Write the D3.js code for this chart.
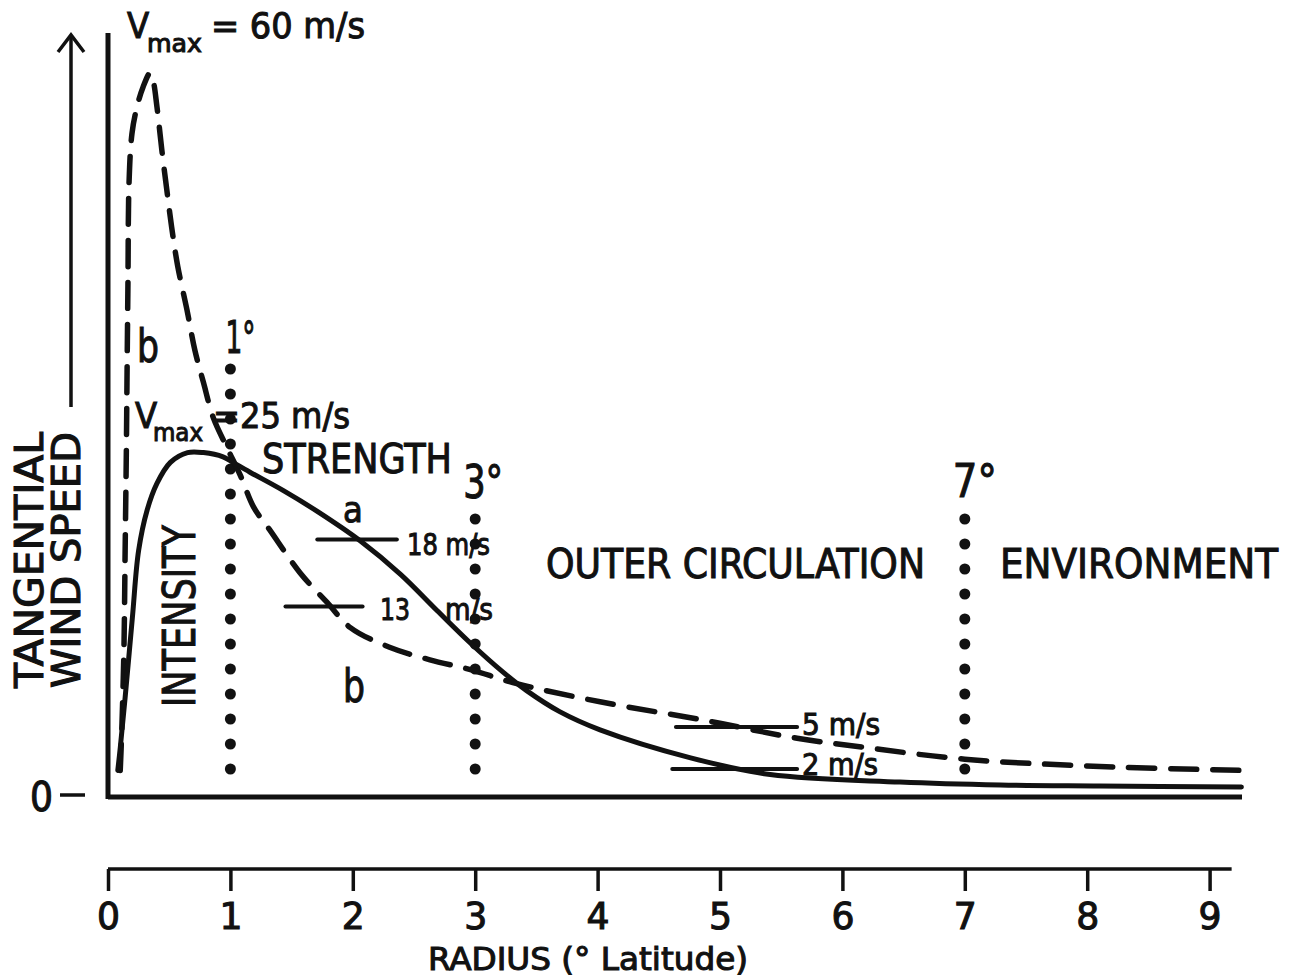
<!DOCTYPE html>
<html>
<head>
<meta charset="utf-8">
<script src="https://cdn.jsdelivr.net/npm/d3@7"></script>
<style>
body { margin: 0; background: #fff; }
text { font-family: "DejaVu Sans Condensed", "Liberation Sans Narrow", "DejaVu Sans", sans-serif; fill: #111; stroke: #111; stroke-width: 1; }
</style>
</head>
<body>
<svg id="chart" width="1299" height="978"></svg>
<script>
// profile a (solid): radius in degrees latitude, tangential speed in m/s as drawn
var radiusA = [0.08, 0.10, 0.14, 0.20, 0.25, 0.32, 0.40, 0.51, 0.65, 0.78, 0.94, 1.02, 1.16, 1.43, 1.71,
    2.06, 2.39, 2.69, 2.96, 3.23, 3.42, 3.69, 4.02, 4.76, 5.41, 6.47, 7.29, 8.10, 9.26];
var speedA = [1.9, 3.5, 7.1, 12.9, 17.6, 20.5, 22.4, 23.9, 24.6, 24.6, 24.3, 23.9, 23.2, 21.9, 20.4,
    18.3, 15.9, 13.3, 11.0, 8.9, 7.6, 6.1, 4.8, 2.8, 1.6, 1.07, 0.86, 0.79, 0.71];

// profile b (dashed)
var radiusB = [0.10, 0.11, 0.13, 0.14, 0.15, 0.155, 0.163, 0.172, 0.196, 0.237, 0.286, 0.343, 0.368, 0.40,
    0.44, 0.48, 0.52, 0.57, 0.645, 0.71, 0.78, 0.86, 0.97, 1.08, 1.19, 1.32, 1.57, 1.79, 1.98,
    2.30, 2.63, 2.96, 3.34, 4.02, 4.86, 5.63, 6.22, 7.00, 8.05, 9.25];
var speedB = [1.9, 4.1, 10.5, 17.6, 24.8, 29.6, 36.7, 43.9, 47.4, 49.3, 50.7, 51.7, 51.2, 49.3,
    46.2, 43.4, 40.7, 37.9, 34.8, 31.9, 29.6, 27.1, 25.0, 23.0, 20.7, 19.1, 16.0, 13.9, 12.1,
    10.7, 9.8, 9.1, 8.1, 6.8, 5.5, 4.2, 3.5, 2.7, 2.2, 1.9];

var xTicks = [0, 1, 2, 3, 4, 5, 6, 7, 8, 9];

// region boundaries (dotted verticals)
var regionRadius = [1, 3, 7];
var regionTop = [30.5, 20.0, 20.0];
var regionLabels = ["1°", "3°", "7°"];

// speed markers
var markerSpeed = [18.4, 13.6, 5.0, 2.0];
var markerFrom = [1.71, 1.45, 4.64, 4.61];
var markerTo = [2.36, 2.08, 5.63, 5.63];

var svg = d3.select("#chart");
svg.append("rect").attr("width", 1299).attr("height", 978).attr("fill", "#fff");

var x = d3.scaleLinear().domain([0, 9]).range([108, 108 + 9 * 122.4]);
var y = d3.scaleLinear().domain([0, 55]).range([797, 27]);

function label(txt, px, py, size, len, rot) {
    var t = svg.append("text")
        .attr("font-size", size)
        .text(txt);
    if (rot) {
        t.attr("transform", "translate(" + px + "," + py + ") rotate(-90)");
    } else {
        t.attr("x", px).attr("y", py);
    }
    if (len) t.attr("textLength", len).attr("lengthAdjust", "spacingAndGlyphs");
    return t;
}

// plot frame: vertical axis and zero line
svg.append("line")
    .attr("x1", x(0)).attr("x2", x(0))
    .attr("y1", 33).attr("y2", y(0) + 2)
    .attr("stroke", "#111").attr("stroke-width", 5);
svg.append("line")
    .attr("x1", x(0)).attr("x2", 1242)
    .attr("y1", y(0)).attr("y2", y(0))
    .attr("stroke", "#111").attr("stroke-width", 5);

// "0 -" tick on the left
label("0", 30, y(0) + 14, 41, 23);
svg.append("line")
    .attr("x1", 60).attr("x2", 85)
    .attr("y1", y(0) - 2).attr("y2", y(0) - 2)
    .attr("stroke", "#111").attr("stroke-width", 3.5);

// axis title with arrow
svg.append("line")
    .attr("x1", 71).attr("x2", 71).attr("y1", 407).attr("y2", 35)
    .attr("stroke", "#111").attr("stroke-width", 3.5);
svg.append("path")
    .attr("d", "M58,52L71,35L84,52")
    .attr("fill", "none").attr("stroke", "#111").attr("stroke-width", 3.5);
label("TANGENTIAL", 43, 688, 39, 256, true);
label("WIND SPEED", 80, 688, 39, 256, true);

// dotted region boundaries
regionRadius.forEach(function (r, i) {
    var top = y(regionTop[i]);
    var dots = d3.range(y(2), top - 5, -25);
    svg.selectAll(null)
        .data(dots)
        .enter()
        .append("circle")
        .attr("cx", x(r))
        .attr("cy", (d) => d)
        .attr("r", 5.5)
        .attr("fill", "#111");
});
label(regionLabels[0], x(1) - 5, 353, 45, 30);
label(regionLabels[1], x(3) - 12, 498, 46, 40);
label(regionLabels[2], x(7) - 12, 497, 46, 44);

// curves
var line = d3.line()
    .x((d) => x(d[0]))
    .y((d) => y(d[1]))
    .curve(d3.curveCatmullRom.alpha(0.5));

svg.append("path")
    .datum(d3.zip(radiusB, speedB))
    .attr("d", line)
    .attr("fill", "none")
    .attr("stroke", "#111")
    .attr("stroke-width", 5.5)
    .attr("stroke-linecap", "round")
    .attr("stroke-dasharray", "26,16");

svg.append("path")
    .datum(d3.zip(radiusA, speedA))
    .attr("d", line)
    .attr("fill", "none")
    .attr("stroke", "#111")
    .attr("stroke-width", 5)
    .attr("stroke-linecap", "round");

// speed markers
markerSpeed.forEach(function (s, i) {
    svg.append("line")
        .attr("x1", x(markerFrom[i])).attr("x2", x(markerTo[i]))
        .attr("y1", y(s)).attr("y2", y(s))
        .attr("stroke", "#111").attr("stroke-width", 4)
        .attr("stroke-linecap", "round");
});
label("18 m/s", 407, 555, 30, 83);
label("13", 380, 620, 31, 30);
label("m/s", 445, 620, 31, 48);
label("5 m/s", 802, 735, 30, 78);
label("2 m/s", 802, 775, 30, 76);

// curve names
label("a", 343, 522, 36);
label("b", 137, 362, 46, 22);
label("b", 343, 702, 46, 22);

// maximum wind labels
label("V", 127, 38, 36);
label("max", 147, 52, 25, 55);
label("= 60 m/s", 211, 38, 36, 154);
label("V", 135, 428, 36);
label("max", 153, 441, 25, 50);
label("=25 m/s", 213, 428, 36, 137);

// region names
label("INTENSITY", 195, 707, 45, 182, true);
label("STRENGTH", 262, 473, 41, 190);
label("OUTER CIRCULATION", 546, 578, 41, 379);
label("ENVIRONMENT", 1000, 578, 41, 278);

// radius axis
var axis = svg.append("g")
    .attr("transform", "translate(0,869)")
    .call(d3.axisBottom(x).tickValues(xTicks).tickSize(22).tickSizeOuter(0).tickFormat(d3.format("d")));
axis.attr("font-family", null);
axis.select(".domain")
    .attr("d", "M" + x(0) + ",0H" + x(9.18))
    .attr("stroke", "#111").attr("stroke-width", 3.5);
axis.selectAll(".tick line").attr("stroke", "#111").attr("stroke-width", 3.5);
axis.selectAll(".tick text")
    .attr("y", 60).attr("dy", 0)
    .attr("font-size", 37)
    .attr("textLength", 23).attr("lengthAdjust", "spacingAndGlyphs")
    .style("fill", "#111");

label("RADIUS (° Latitude)", 428, 970, 32, 320);
</script>
</body>
</html>
